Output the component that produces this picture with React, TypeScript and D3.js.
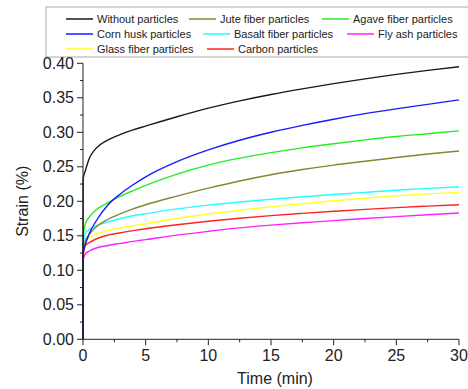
import React from "react";
import * as d3 from "d3";

const times = [0, 0.01, 0.2, 0.5, 1, 2, 3, 4, 5, 7.5, 10, 12.5, 15, 17.5, 20, 22.5, 25, 27.5, 30];

const seriesNames = [
  "Without particles",
  "Jute fiber particles",
  "Agave fiber particles",
  "Corn husk particles",
  "Basalt fiber particles",
  "Fly ash particles",
  "Glass fiber particles",
  "Carbon particles",
];

const seriesColors = ["#1a1a1a", "#8a8430", "#22ee22", "#1a1aff", "#22ffff", "#ff22ff", "#ffff22", "#ff2222"];

const withoutVals = [0, 0.232, 0.245, 0.262, 0.276, 0.289, 0.297, 0.3035, 0.309, 0.3225, 0.335, 0.3455, 0.3548, 0.363, 0.3705, 0.3775, 0.384, 0.3897, 0.395];
const juteVals = [0, 0.120, 0.143, 0.152, 0.162, 0.174, 0.182, 0.189, 0.195, 0.2075, 0.219, 0.2295, 0.2385, 0.246, 0.2525, 0.258, 0.2635, 0.2685, 0.273];
const agaveVals = [0, 0.150, 0.168, 0.177, 0.187, 0.198, 0.2075, 0.2155, 0.223, 0.2395, 0.2525, 0.2625, 0.2705, 0.2775, 0.2835, 0.289, 0.294, 0.298, 0.302];
const cornVals = [0, 0.125, 0.138, 0.153, 0.170, 0.195, 0.211, 0.224, 0.2355, 0.2575, 0.2745, 0.2885, 0.300, 0.310, 0.319, 0.327, 0.334, 0.3405, 0.347];
const basaltVals = [0, 0.135, 0.154, 0.159, 0.164, 0.170, 0.175, 0.179, 0.182, 0.189, 0.1945, 0.199, 0.203, 0.2065, 0.2098, 0.213, 0.216, 0.2187, 0.221];
const flyAshVals = [0, 0.115, 0.124, 0.128, 0.132, 0.136, 0.139, 0.142, 0.1445, 0.151, 0.1565, 0.1615, 0.1655, 0.169, 0.172, 0.175, 0.1778, 0.1805, 0.183];
const glassVals = [0, 0.125, 0.143, 0.148, 0.152, 0.158, 0.1615, 0.1645, 0.1675, 0.175, 0.1815, 0.187, 0.192, 0.1965, 0.2007, 0.2045, 0.208, 0.2107, 0.213];
const carbonVals = [0, 0.120, 0.136, 0.140, 0.145, 0.151, 0.1545, 0.1575, 0.1603, 0.166, 0.171, 0.1755, 0.1793, 0.1825, 0.1855, 0.1883, 0.1908, 0.193, 0.195];

const seriesValues = [withoutVals, juteVals, agaveVals, cornVals, basaltVals, flyAshVals, glassVals, carbonVals];

const xTicks = [0, 5, 10, 15, 20, 25, 30];
const yTicks = [0, 0.05, 0.1, 0.15, 0.2, 0.25, 0.3, 0.35, 0.4];

const drawOrder = [6, 7, 5, 4, 1, 2, 3, 0];

const legendLayout = [
  { x: 66, row: 0 },
  { x: 189, row: 0 },
  { x: 322, row: 0 },
  { x: 66, row: 1 },
  { x: 203, row: 1 },
  { x: 347, row: 1 },
  { x: 66, row: 2 },
  { x: 207, row: 2 },
];

export default function App() {
  const W = 468, H = 389;
  const left = 83, right = 459, top = 63.3, bottom = 339.3;
  const x = d3.scaleLinear().domain([0, 30]).range([left, right]);
  const y = d3.scaleLinear().domain([0, 0.4]).range([bottom, top]);
  const font = "'Liberation Sans', Arial, sans-serif";
  const txt = "#222";

  const line = d3
    .line<[number, number]>()
    .x((d) => x(d[0]))
    .y((d) => y(d[1]))
    .curve(d3.curveMonotoneX);

  const xMinor = d3.range(0, 30.01, 2.5);
  const yMinor = d3.range(0, 0.4001, 0.025);

  return (
    <svg width={W} height={H} style={{ position: "absolute", left: 0, top: 0, background: "#fff" }} fontFamily={font}>
      <rect x={46} y={7} width={430} height={50} fill="#fff" stroke="#aaa" strokeWidth={1} />
      {seriesNames.map((n, i) => {
        const L = legendLayout[i];
        const yy = 19 + L.row * 15;
        return (
          <g key={n}>
            <line x1={L.x} x2={L.x + 27} y1={yy} y2={yy} stroke={seriesColors[i]} strokeWidth={1.5} />
            <text x={L.x + 31} y={yy + 4} fontSize={11} fill={txt}>
              {n}
            </text>
          </g>
        );
      })}

      {drawOrder.map((i) => (
        <path
          key={i}
          d={line(times.map((t, k) => [t, seriesValues[i][k]]) as [number, number][]) || ""}
          fill="none"
          stroke={seriesColors[i]}
          strokeWidth={1.4}
        />
      ))}

      <line x1={left} x2={left} y1={top} y2={bottom} stroke="#222" strokeWidth={1} />
      <line x1={left} x2={right} y1={bottom} y2={bottom} stroke="#222" strokeWidth={1} />
      {yMinor.map((v, k) => (
        <line key={"ym" + k} x1={left - (k % 2 === 0 ? 6 : 3)} x2={left} y1={y(v)} y2={y(v)} stroke="#222" strokeWidth={1} />
      ))}
      {xMinor.map((v, k) => (
        <line key={"xm" + k} x1={x(v)} x2={x(v)} y1={bottom} y2={bottom + (k % 2 === 0 ? 6 : 3)} stroke="#222" strokeWidth={1} />
      ))}
      {yTicks.map((v) => (
        <text key={"yt" + v} x={left - 9} y={y(v) + 5.5} fontSize={16} textAnchor="end" fill={txt}>
          {v.toFixed(2)}
        </text>
      ))}
      {xTicks.map((v) => (
        <text key={"xt" + v} x={x(v)} y={bottom + 22} fontSize={16} textAnchor="middle" fill={txt}>
          {v}
        </text>
      ))}
      <text x={275} y={384} fontSize={16} textAnchor="middle" fill={txt}>
        Time (min)
      </text>
      <text transform={`translate(28,${(top + bottom) / 2}) rotate(-90)`} fontSize={16} textAnchor="middle" fill={txt}>
        Strain (%)
      </text>
    </svg>
  );
}
